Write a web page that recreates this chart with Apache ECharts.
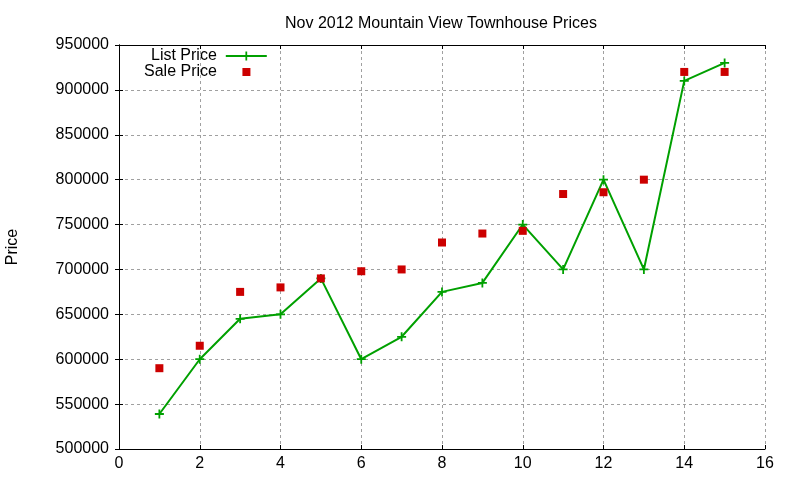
<!DOCTYPE html>
<html>
<head>
<meta charset="utf-8">
<script src="https://cdn.jsdelivr.net/npm/echarts@6/dist/echarts.min.js"></script>
<style>html,body{margin:0;padding:0;background:#fff}#c{width:800px;height:480px}</style>
</head>
<body>
<div id="c"></div>
<script>
const titleText = 'Nov 2012 Mountain View Townhouse Prices';
const xValues = [1, 2, 3, 4, 5, 6, 7, 8, 9, 10, 11, 12, 13, 14, 15];
const listPrice = [539000, 600000, 645000, 650000, 690000, 600000, 625000, 675000, 685000, 750000, 700000, 800000, 700000, 910000, 930000];
const salePrice = [590000, 615000, 675000, 680000, 690000, 698000, 700000, 730000, 740000, 743000, 784000, 786000, 800000, 920000, 920000];

const FONT = "'Liberation Sans', Arial, sans-serif";
const GREEN = '#00a000';
const RED = '#cc0000';
const plusPath = 'path://M4,0H6V4H10V6H6V10H4V6H0V4H4Z';
const squarePath = 'path://M0,0H10V10H0Z';

const chart = echarts.init(document.getElementById('c'), null, {renderer: 'canvas'});

const commonAxis = {
  axisLine: {show: true, lineStyle: {color: '#000', width: 1}},
  axisTick: {show: true, inside: true, length: 4, lineStyle: {color: '#000'}},
};
const gridLine = {show: true, lineStyle: {color: '#a0a0a0', type: [3, 3], width: 1}};

chart.setOption({
  animation: false,
  backgroundColor: '#fff',
  textStyle: {fontFamily: FONT},
  title: {
    text: titleText, left: 280, top: 11,
    textStyle: {fontFamily: FONT, fontSize: 16, fontWeight: 'normal', color: '#000'}
  },
  grid: {left: 119, right: 35, top: 45, bottom: 31, containLabel: false, outerBoundsMode: 'none'},
  legend: [
    {
      data: ['List Price'], orient: 'vertical', align: 'right', left: 151, top: 48,
      padding: 0, itemWidth: 41, itemHeight: 11, selectedMode: false,
      textStyle: {fontFamily: FONT, fontSize: 16, color: '#000', padding: [0, 4, 0, 0]}
    },
    {
      data: [{name: 'Sale Price', icon: squarePath}], orient: 'vertical', align: 'right', left: 144, top: 64,
      padding: 0, itemWidth: 41, itemHeight: 8, selectedMode: false,
      textStyle: {fontFamily: FONT, fontSize: 16, color: '#000', padding: [0, 4, 0, 0]}
    }
  ],
  xAxis: [
    Object.assign({}, commonAxis, {
      type: 'value', min: 0, max: 16, interval: 2, position: 'bottom',
      axisLabel: {fontFamily: FONT, fontSize: 16, color: '#000', margin: 7},
      splitLine: gridLine
    }),
    Object.assign({}, commonAxis, {
      type: 'value', min: 0, max: 16, interval: 2, position: 'top',
      axisLabel: {show: false}, splitLine: {show: false}
    })
  ],
  yAxis: [
    Object.assign({}, commonAxis, {
      type: 'value', min: 500000, max: 950000, interval: 50000, position: 'left',
      name: 'Price', nameLocation: 'middle', nameGap: 98, nameRotate: 90,
      nameTextStyle: {fontFamily: FONT, fontSize: 16, color: '#000'},
      axisLabel: {fontFamily: FONT, fontSize: 16, color: '#000', margin: 10, formatter: v => String(v)},
      splitLine: gridLine
    }),
    Object.assign({}, commonAxis, {
      type: 'value', min: 500000, max: 950000, interval: 50000, position: 'right',
      axisLabel: {show: false}, splitLine: {show: false}
    })
  ],
  series: [
    {
      name: 'List Price', type: 'line', xAxisIndex: 0, yAxisIndex: 0,
      data: xValues.map((x, i) => [x, listPrice[i]]),
      symbol: plusPath, symbolSize: 9, showAllSymbol: true,
      lineStyle: {color: GREEN, width: 2},
      itemStyle: {color: GREEN},
      z: 3
    },
    {
      name: 'Sale Price', type: 'scatter', xAxisIndex: 0, yAxisIndex: 0,
      data: xValues.map((x, i) => [x, salePrice[i]]),
      symbol: 'rect', symbolSize: 8,
      itemStyle: {color: RED, opacity: 1},
      z: 4
    }
  ]
});
</script>
</body>
</html>
